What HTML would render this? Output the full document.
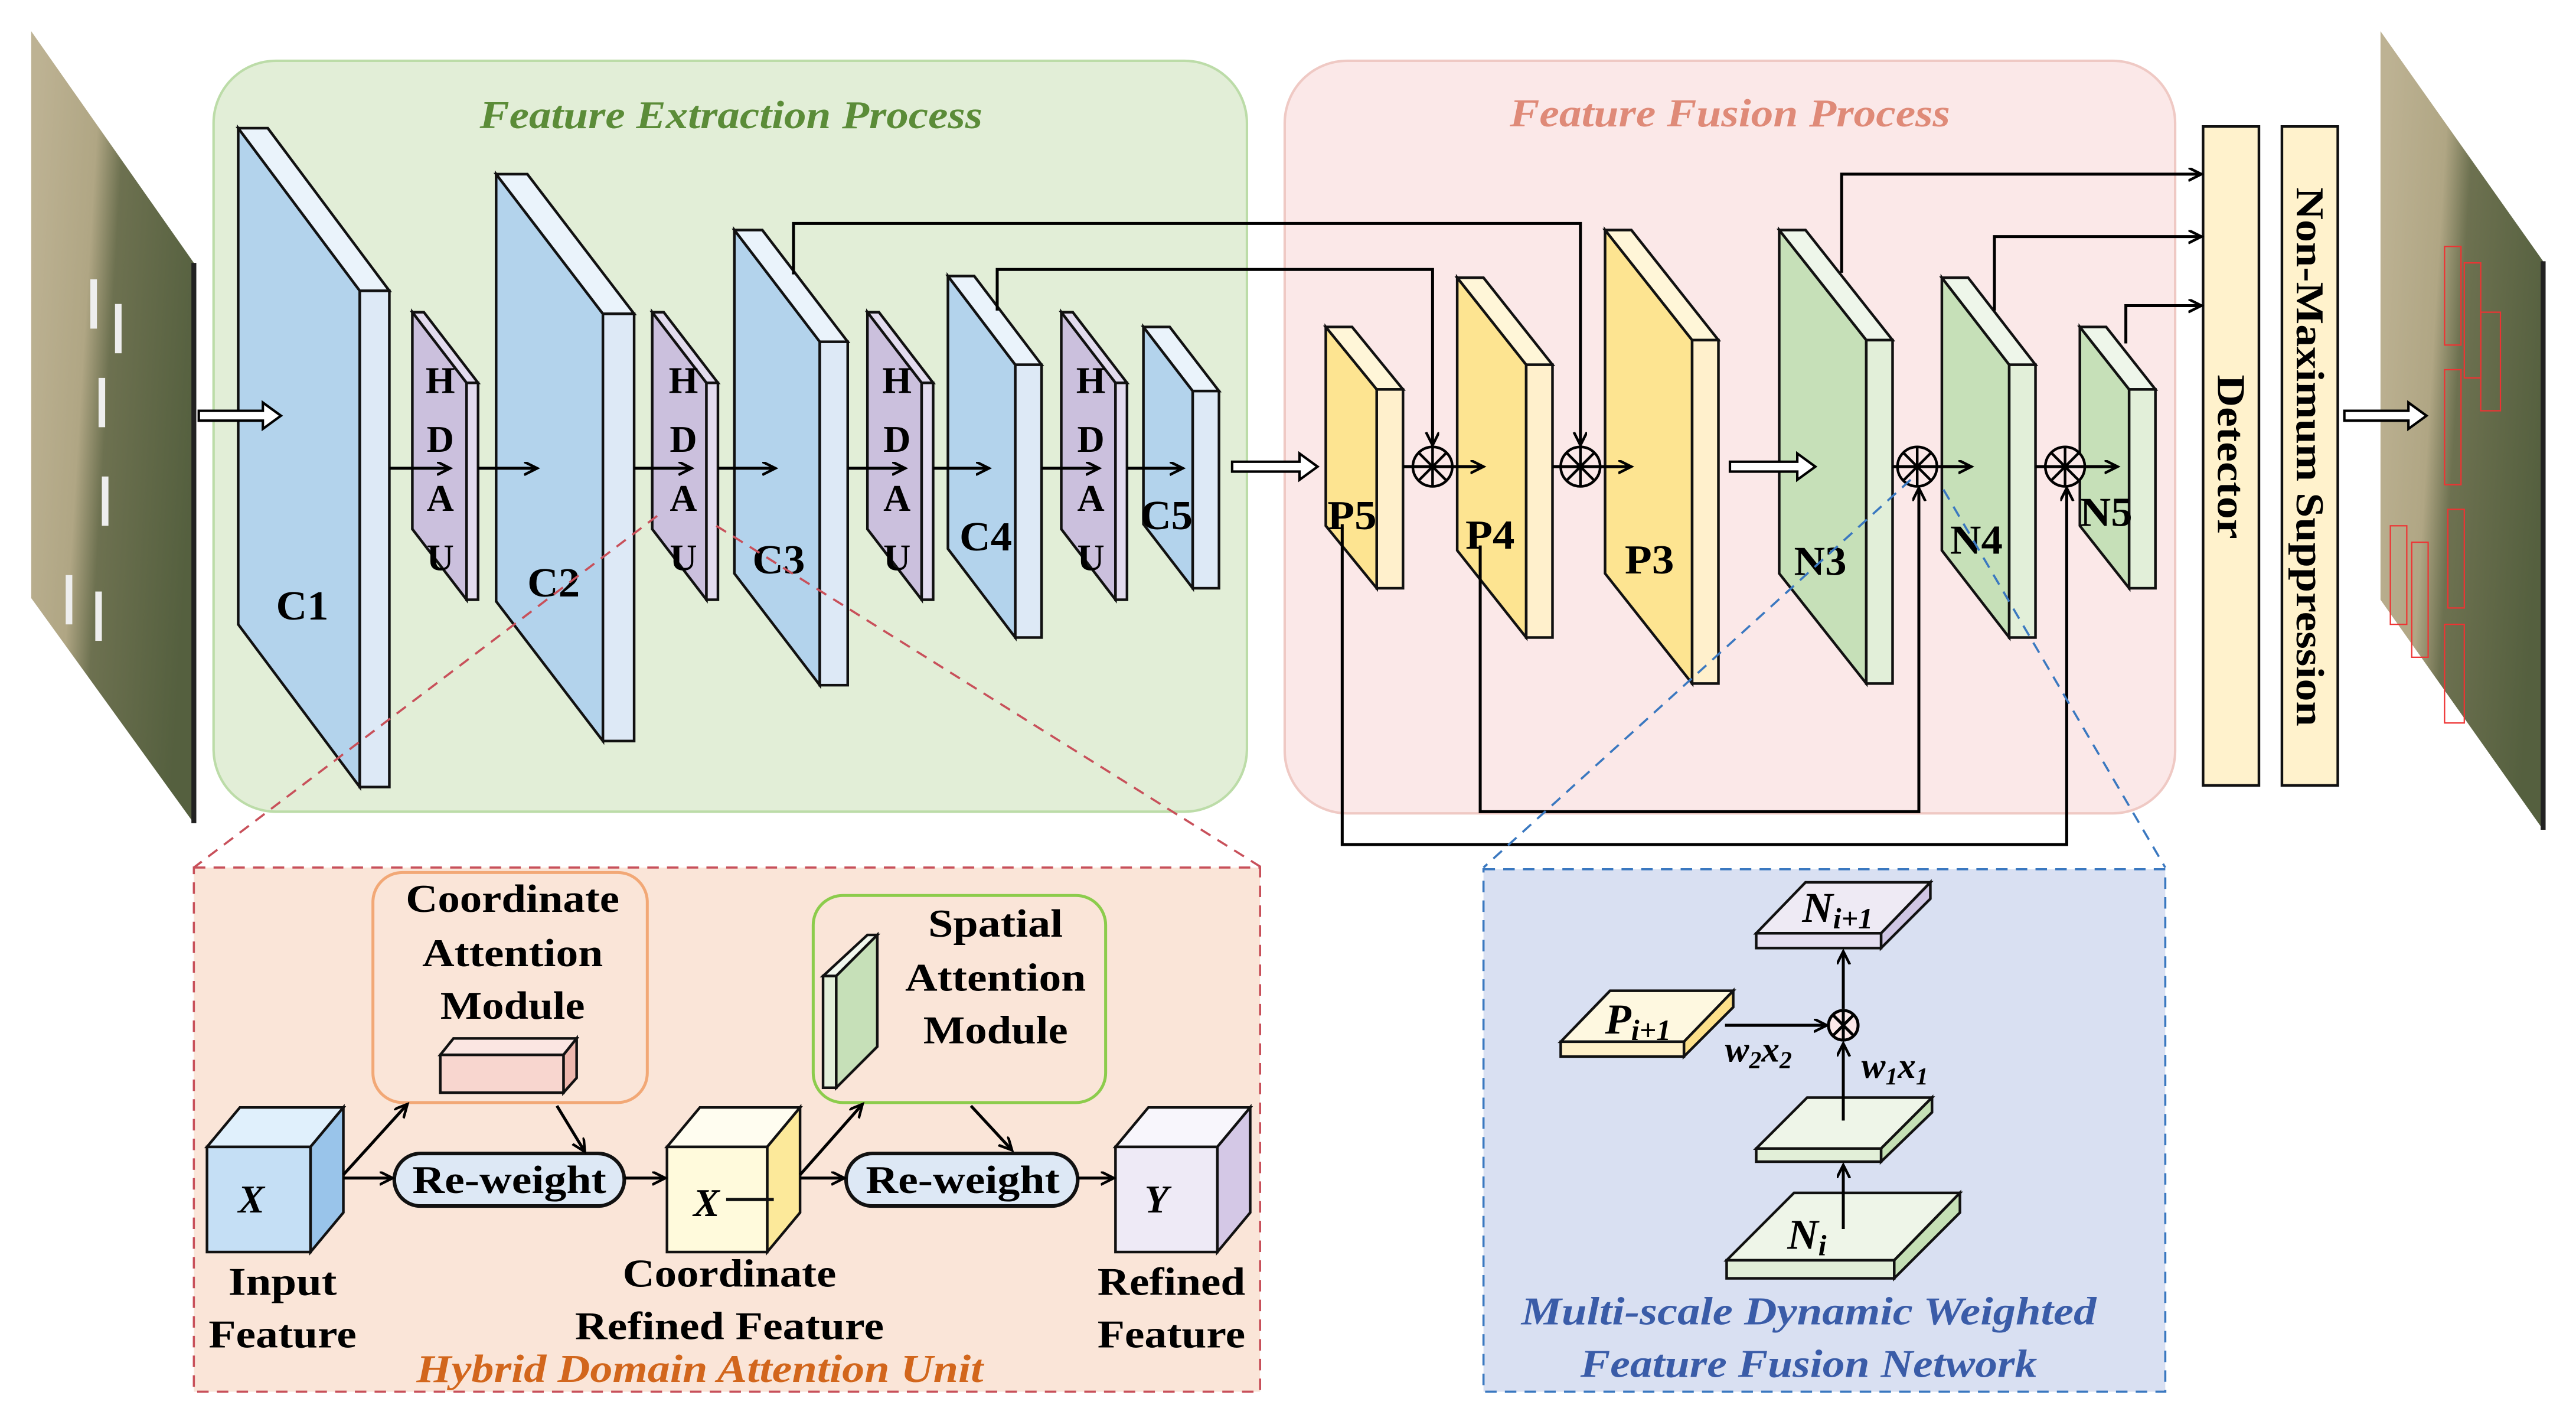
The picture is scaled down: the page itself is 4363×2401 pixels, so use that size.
<!DOCTYPE html>
<html><head><meta charset="utf-8"><style>
html,body{margin:0;padding:0;background:#fff;}
svg{display:block;}
text{font-family:"Liberation Serif",serif;font-weight:bold;}
</style></head><body>
<svg width="4363" height="2401" viewBox="0 0 1568 863" preserveAspectRatio="none" xmlns="http://www.w3.org/2000/svg">
<defs>
<marker id="a" markerWidth="10" markerHeight="10" refX="8" refY="4" orient="auto" markerUnits="userSpaceOnUse">
<path d="M0,0 L8,4 L0,8" fill="none" stroke="#000" stroke-width="1.6"/></marker>
<linearGradient id="img" x1="0" y1="0.2" x2="1" y2="0.5">
<stop offset="0" stop-color="#bdb293"/><stop offset="0.35" stop-color="#b0a684"/><stop offset="0.5" stop-color="#6d7150"/><stop offset="1" stop-color="#55603f"/></linearGradient>
</defs>
<rect width="1568" height="863" fill="#fff"/>

<!-- images -->
<polygon points="19,19 118,160 118,501 19,364" fill="url(#img)"/>
<line x1="118" y1="160" x2="118" y2="501" stroke="#222" stroke-width="3"/>
<polygon points="1449,19 1548,159 1548,505 1449,365" fill="url(#img)"/>
<line x1="1548" y1="159" x2="1548" y2="505" stroke="#222" stroke-width="3"/>
<g stroke="#e33" stroke-width="0.8" fill="none">
<rect x="1488" y="150" width="10" height="60"/><rect x="1500" y="160" width="10" height="70"/><rect x="1510" y="190" width="12" height="60"/>
<rect x="1488" y="225" width="10" height="70"/><rect x="1490" y="310" width="10" height="60"/><rect x="1455" y="320" width="10" height="60"/><rect x="1468" y="330" width="10" height="70"/><rect x="1488" y="380" width="12" height="60"/>
</g>
<g fill="#eee"><rect x="55" y="170" width="4" height="30"/><rect x="70" y="185" width="4" height="30"/><rect x="60" y="230" width="4" height="30"/><rect x="62" y="290" width="4" height="30"/><rect x="40" y="350" width="4" height="30"/><rect x="58" y="360" width="4" height="30"/></g>

<!-- big background boxes -->
<rect x="130" y="37" width="629" height="457" rx="38" fill="#e2eed7" stroke="#bcdca8" stroke-width="1.5"/>
<rect x="782" y="37" width="542" height="458" rx="38" fill="#fbe8e8" stroke="#efc9c4" stroke-width="1.5"/>
<text x="445" y="78" font-size="24" font-style="italic" fill="#5b8c38" text-anchor="middle" textLength="306" lengthAdjust="spacingAndGlyphs">Feature Extraction Process</text>
<text x="1053" y="77" font-size="24" font-style="italic" fill="#df8a78" text-anchor="middle" textLength="268" lengthAdjust="spacingAndGlyphs">Feature Fusion Process</text>

<!-- slabs -->
<g stroke="#111" stroke-width="1.6" stroke-linejoin="miter">
<g fill="#b3d3ec">
<polygon points="145,78 219,177 219,479 145,380"/><polygon points="145,78 163,78 237,177 219,177" fill="#eaf3fb"/><rect x="219" y="177" width="18" height="302" fill="#dde9f6"/>
<polygon points="302,106 367,191 367,451 302,366"/><polygon points="302,106 321,106 386,191 367,191" fill="#eaf3fb"/><rect x="367" y="191" width="19" height="260" fill="#dde9f6"/>
<polygon points="447,140 499,208 499,417 447,349"/><polygon points="447,140 464,140 516,208 499,208" fill="#eaf3fb"/><rect x="499" y="208" width="17" height="209" fill="#dde9f6"/>
<polygon points="577,168 618,222 618,388 577,334"/><polygon points="577,168 593,168 634,222 618,222" fill="#eaf3fb"/><rect x="618" y="222" width="16" height="166" fill="#dde9f6"/>
<polygon points="696,199 726,238 726,358 696,319"/><polygon points="696,199 712,199 742,238 726,238" fill="#eaf3fb"/><rect x="726" y="238" width="16" height="120" fill="#dde9f6"/>
</g>
<g fill="#cbc0dd">
<polygon points="251,190 284,233 284,365 251,322"/><polygon points="251,190 258,190 291,233 284,233" fill="#e3dcef"/><rect x="284" y="233" width="7" height="132" fill="#e3dcef"/>
<polygon points="397,190 430,233 430,365 397,322"/><polygon points="397,190 404,190 437,233 430,233" fill="#e3dcef"/><rect x="430" y="233" width="7" height="132" fill="#e3dcef"/>
<polygon points="528,190 561,233 561,365 528,322"/><polygon points="528,190 535,190 568,233 561,233" fill="#e3dcef"/><rect x="561" y="233" width="7" height="132" fill="#e3dcef"/>
<polygon points="646,190 679,233 679,365 646,322"/><polygon points="646,190 653,190 686,233 679,233" fill="#e3dcef"/><rect x="679" y="233" width="7" height="132" fill="#e3dcef"/>
</g>
<g fill="#fde491">
<polygon points="807,199 838,237 838,358 807,320"/><polygon points="807,199 823,199 854,237 838,237" fill="#fff6d8"/><rect x="838" y="237" width="16" height="121" fill="#fff0cc"/>
<polygon points="887,169 929,222 929,388 887,335"/><polygon points="887,169 903,169 945,222 929,222" fill="#fff6d8"/><rect x="929" y="222" width="16" height="166" fill="#fff0cc"/>
<polygon points="977,140 1030,207 1030,416 977,349"/><polygon points="977,140 993,140 1046,207 1030,207" fill="#fff6d8"/><rect x="1030" y="207" width="16" height="209" fill="#fff0cc"/>
</g>
<g fill="#c6e0b8">
<polygon points="1083,140 1136,207 1136,416 1083,349"/><polygon points="1083,140 1099,140 1152,207 1136,207" fill="#eef6ea"/><rect x="1136" y="207" width="16" height="209" fill="#e2efd9"/>
<polygon points="1182,169 1223,222 1223,388 1182,335"/><polygon points="1182,169 1198,169 1239,222 1223,222" fill="#eef6ea"/><rect x="1223" y="222" width="16" height="166" fill="#e2efd9"/>
<polygon points="1266,199 1296,237 1296,358 1266,320"/><polygon points="1266,199 1282,199 1312,237 1296,237" fill="#eef6ea"/><rect x="1296" y="237" width="16" height="121" fill="#e2efd9"/>
</g>
<rect x="1341" y="77" width="34" height="401" fill="#fff2cc"/>
<rect x="1389" y="77" width="34" height="401" fill="#fff2cc"/>
</g>
<text transform="translate(1350,278) rotate(90)" font-size="24" text-anchor="middle" textLength="100" lengthAdjust="spacingAndGlyphs">Detector</text>
<text transform="translate(1398,278) rotate(90)" font-size="24" text-anchor="middle" textLength="328" lengthAdjust="spacingAndGlyphs">Non-Maximum Suppression</text>

<!-- labels -->
<g font-size="25">
<text x="184" y="377" text-anchor="middle" textLength="32" lengthAdjust="spacingAndGlyphs">C1</text>
<text x="337" y="363" text-anchor="middle" textLength="32" lengthAdjust="spacingAndGlyphs">C2</text>
<text x="474" y="349" text-anchor="middle" textLength="32" lengthAdjust="spacingAndGlyphs">C3</text>
<text x="600" y="335" text-anchor="middle" textLength="32" lengthAdjust="spacingAndGlyphs">C4</text>
<text x="710" y="322" text-anchor="middle" textLength="32" lengthAdjust="spacingAndGlyphs">C5</text>
<text x="823" y="322" text-anchor="middle" textLength="30" lengthAdjust="spacingAndGlyphs">P5</text>
<text x="907" y="334" text-anchor="middle" textLength="30" lengthAdjust="spacingAndGlyphs">P4</text>
<text x="1004" y="349" text-anchor="middle" textLength="30" lengthAdjust="spacingAndGlyphs">P3</text>
<text x="1108" y="350" text-anchor="middle" textLength="32" lengthAdjust="spacingAndGlyphs">N3</text>
<text x="1203" y="337" text-anchor="middle" textLength="32" lengthAdjust="spacingAndGlyphs">N4</text>
<text x="1282" y="320" text-anchor="middle" textLength="32" lengthAdjust="spacingAndGlyphs">N5</text>
</g>
<g font-size="23" text-anchor="middle">
<text x="268" y="239">H</text><text x="268" y="275">D</text><text x="268" y="311">A</text><text x="268" y="347">U</text>
<text x="416" y="239">H</text><text x="416" y="275">D</text><text x="416" y="311">A</text><text x="416" y="347">U</text>
<text x="546" y="239">H</text><text x="546" y="275">D</text><text x="546" y="311">A</text><text x="546" y="347">U</text>
<text x="664" y="239">H</text><text x="664" y="275">D</text><text x="664" y="311">A</text><text x="664" y="347">U</text>
</g>

<!-- arrows extraction -->
<g stroke="#000" stroke-width="1.8" fill="none" marker-end="url(#a)">
<line x1="237" y1="285" x2="274" y2="285"/><line x1="291" y1="285" x2="327" y2="285"/>
<line x1="386" y1="285" x2="421" y2="285"/><line x1="437" y1="285" x2="472" y2="285"/>
<line x1="516" y1="285" x2="551" y2="285"/><line x1="568" y1="285" x2="602" y2="285"/>
<line x1="634" y1="285" x2="669" y2="285"/><line x1="686" y1="285" x2="720" y2="285"/>
<line x1="854" y1="284" x2="903" y2="284"/><line x1="945" y1="284" x2="993" y2="284"/>
<line x1="1152" y1="284" x2="1200" y2="284"/><line x1="1239" y1="284" x2="1289" y2="284"/>
<polyline points="483,167 483,136 962,136 962,271"/>
<polyline points="607,189 607,164 872,164 872,271"/>
<polyline points="817,319 817,514 1258,514 1258,297"/>
<polyline points="901,332 901,494 1168,494 1168,297"/>
<polyline points="1121,166 1121,106 1340,106"/>
<polyline points="1214,189 1214,144 1340,144"/>
<polyline points="1294,209 1294,186 1340,186"/>
</g>
<!-- hollow arrows -->
<g fill="#fff" stroke="#000" stroke-width="1.5">
<path d="M121,250 L160,250 L160,245 L171,253 L160,261 L160,256 L121,256 Z"/>
<path d="M750,281 L791,281 L791,276 L802,284 L791,292 L791,287 L750,287 Z"/>
<path d="M1053,281 L1094,281 L1094,276 L1105,284 L1094,292 L1094,287 L1053,287 Z"/>
<path d="M1427,250 L1466,250 L1466,245 L1477,253 L1466,261 L1466,256 L1427,256 Z"/>
</g>
<!-- otimes -->
<g stroke="#000" stroke-width="1.6" fill="none">
<g transform="translate(872,284)"><circle r="12" fill="#fbe8e8"/><line x1="0" y1="-12" x2="0" y2="12"/><line x1="-8.5" y1="-8.5" x2="8.5" y2="8.5"/><line x1="8.5" y1="-8.5" x2="-8.5" y2="8.5"/></g>
<g transform="translate(962,284)"><circle r="12" fill="#fbe8e8"/><line x1="0" y1="-12" x2="0" y2="12"/><line x1="-8.5" y1="-8.5" x2="8.5" y2="8.5"/><line x1="8.5" y1="-8.5" x2="-8.5" y2="8.5"/></g>
<g transform="translate(1167,284)"><circle r="12" fill="#fbe8e8"/><line x1="0" y1="-12" x2="0" y2="12"/><line x1="-8.5" y1="-8.5" x2="8.5" y2="8.5"/><line x1="8.5" y1="-8.5" x2="-8.5" y2="8.5"/></g>
<g transform="translate(1257,284)"><circle r="12" fill="#fbe8e8"/><line x1="0" y1="-12" x2="0" y2="12"/><line x1="-8.5" y1="-8.5" x2="8.5" y2="8.5"/><line x1="8.5" y1="-8.5" x2="-8.5" y2="8.5"/></g>
</g>
<g stroke="#000" stroke-width="1.8"><line x1="854" y1="284" x2="895" y2="284"/><line x1="945" y1="284" x2="985" y2="284"/><line x1="1152" y1="284" x2="1192" y2="284"/><line x1="1239" y1="284" x2="1280" y2="284"/></g>

<!-- dashed zoom lines -->
<g fill="none" stroke-width="1.3" stroke-dasharray="7,5">
<line x1="400" y1="314" x2="118" y2="528" stroke="#c8505a"/>
<line x1="436" y1="320" x2="768" y2="528" stroke="#c8505a"/>
<line x1="1163" y1="292" x2="903" y2="528" stroke="#3a78c0"/>
<line x1="1183" y1="298" x2="1318" y2="528" stroke="#3a78c0"/>
</g>

<!-- Hybrid domain attention unit -->
<rect x="118" y="528" width="649" height="319" fill="#fae5d8" stroke="#c8505a" stroke-width="1.3" stroke-dasharray="7,5"/>
<rect x="227" y="531" width="167" height="140" rx="18" fill="#fae5d8" stroke="#f2a876" stroke-width="1.8"/>
<rect x="495" y="545" width="178" height="126" rx="18" fill="#fae5d8" stroke="#8ccc4c" stroke-width="1.8"/>
<g font-size="24" text-anchor="middle">
<text x="312" y="555" textLength="130" lengthAdjust="spacingAndGlyphs">Coordinate</text>
<text x="312" y="588" textLength="110" lengthAdjust="spacingAndGlyphs">Attention</text>
<text x="312" y="620" textLength="88" lengthAdjust="spacingAndGlyphs">Module</text>
<text x="606" y="570" textLength="82" lengthAdjust="spacingAndGlyphs">Spatial</text>
<text x="606" y="603" textLength="110" lengthAdjust="spacingAndGlyphs">Attention</text>
<text x="606" y="635" textLength="88" lengthAdjust="spacingAndGlyphs">Module</text>
<text x="172" y="788" textLength="66" lengthAdjust="spacingAndGlyphs">Input</text>
<text x="172" y="820" textLength="90" lengthAdjust="spacingAndGlyphs">Feature</text>
<text x="444" y="783" textLength="130" lengthAdjust="spacingAndGlyphs">Coordinate</text>
<text x="444" y="815" textLength="188" lengthAdjust="spacingAndGlyphs">Refined Feature</text>
<text x="713" y="788" textLength="90" lengthAdjust="spacingAndGlyphs">Refined</text>
<text x="713" y="820" textLength="90" lengthAdjust="spacingAndGlyphs">Feature</text>
</g>
<text x="426" y="841" font-size="24" font-style="italic" fill="#d2661c" text-anchor="middle" textLength="345" lengthAdjust="spacingAndGlyphs">Hybrid Domain Attention Unit</text>
<g stroke="#111" stroke-width="1.6">
<polygon points="268,642 276,632 351,632 343,642" fill="#fbe6e2"/><polygon points="343,642 351,632 351,656 343,665" fill="#eeb8ae"/><rect x="268" y="642" width="75" height="23" fill="#f8d6cf"/>
<polygon points="501,594 528,569 534,569 509,594" fill="#f2f8ee"/><polygon points="509,594 534,569 534,637 509,662" fill="#c6e0b8"/><rect x="501" y="594" width="8" height="68" fill="#e2efd9"/>
<polygon points="126,698 146,674 209,674 189,698" fill="#e0f0fc"/><polygon points="189,698 209,674 209,738 189,762" fill="#99c4ea"/><rect x="126" y="698" width="63" height="64" fill="#c5dff5"/>
<polygon points="406,698 426,674 487,674 467,698" fill="#fffdf0"/><polygon points="467,698 487,674 487,738 467,762" fill="#fce99a"/><rect x="406" y="698" width="61" height="64" fill="#fffadc"/>
<polygon points="679,698 699,674 761,674 741,698" fill="#f8f6fc"/><polygon points="741,698 761,674 761,738 741,762" fill="#d4c8e6"/><rect x="679" y="698" width="62" height="64" fill="#eeeaf6"/>
<rect x="240" y="702" width="140" height="32" rx="16" fill="#dde8f5" stroke-width="2.2"/>
<rect x="515" y="702" width="141" height="32" rx="16" fill="#dde8f5" stroke-width="2.2"/>
<line x1="442" y1="730" x2="471" y2="730" stroke-width="2"/>
</g>
<g font-size="24" text-anchor="middle">
<text x="310" y="726" textLength="118" lengthAdjust="spacingAndGlyphs">Re-weight</text>
<text x="586" y="726" textLength="118" lengthAdjust="spacingAndGlyphs">Re-weight</text>
<text x="153" y="738" font-style="italic">X</text>
<text x="430" y="740" font-style="italic">X</text>
<text x="704" y="738" font-style="italic">Y</text>
</g>
<g stroke="#000" stroke-width="1.8" fill="none" marker-end="url(#a)">
<line x1="209" y1="717" x2="239" y2="717"/><line x1="380" y1="717" x2="405" y2="717"/>
<line x1="487" y1="717" x2="514" y2="717"/><line x1="656" y1="717" x2="678" y2="717"/>
<line x1="209" y1="715" x2="248" y2="672"/><line x1="339" y1="673" x2="356" y2="701"/>
<line x1="487" y1="715" x2="525" y2="672"/><line x1="591" y1="673" x2="616" y2="700"/>
</g>

<!-- Multi-scale box -->
<rect x="903" y="529" width="415" height="318" fill="#d9e0f2" stroke="#3a78c0" stroke-width="1.3" stroke-dasharray="7,5"/>
<g stroke="#111" stroke-width="1.6">
<polygon points="1069,568 1099,537 1175,537 1145,568" fill="#eeeaf4"/><polygon points="1145,568 1175,537 1175,547 1145,577" fill="#d0c6e4"/><rect x="1069" y="568" width="76" height="9" fill="#e4def0"/>
<polygon points="950,634 980,603 1055,603 1025,634" fill="#fef8e0"/><polygon points="1025,634 1055,603 1055,613 1025,643" fill="#fde08a"/><rect x="950" y="634" width="75" height="9" fill="#fff0c8"/>
<polygon points="1069,699 1100,668 1176,668 1145,699" fill="#eef5e8"/><polygon points="1145,699 1176,668 1176,677 1145,707" fill="#c5e0b5"/><rect x="1069" y="699" width="76" height="8" fill="#e2efd8"/>
<polygon points="1051,767 1092,726 1193,726 1153,767" fill="#eef5e8"/><polygon points="1153,767 1193,726 1193,738 1153,778" fill="#c5e0b5"/><rect x="1051" y="767" width="102" height="11" fill="#e2efd8"/>
</g>
<g stroke="#000" stroke-width="1.8" fill="none">
<g marker-end="url(#a)">
<line x1="1122" y1="748" x2="1122" y2="709"/><line x1="1122" y1="682" x2="1122" y2="635"/>
<line x1="1122" y1="614" x2="1122" y2="579"/><line x1="1050" y1="624" x2="1112" y2="624"/>
</g>
<circle cx="1122" cy="624" r="9" fill="#fbe8e8"/><line x1="1122" y1="615" x2="1122" y2="633"/><line x1="1116" y1="618" x2="1128" y2="630"/><line x1="1128" y1="618" x2="1116" y2="630"/>
</g>
<g font-style="italic" font-size="26">
<text x="1097" y="561">N<tspan font-size="18" dy="4">i+1</tspan></text>
<text x="977" y="629">P<tspan font-size="18" dy="4">i+1</tspan></text>
<text x="1088" y="760">N<tspan font-size="18" dy="4">i</tspan></text>
<text x="1050" y="646" font-size="22">w<tspan font-size="15" dy="4">2</tspan><tspan dy="-4">x</tspan><tspan font-size="15" dy="4">2</tspan></text>
<text x="1133" y="656" font-size="22">w<tspan font-size="15" dy="4">1</tspan><tspan dy="-4">x</tspan><tspan font-size="15" dy="4">1</tspan></text>
</g>
<g font-style="italic" font-size="24" fill="#3a5ca8" text-anchor="middle">
<text x="1101" y="806" textLength="350" lengthAdjust="spacingAndGlyphs">Multi-scale Dynamic Weighted</text>
<text x="1101" y="838" textLength="278" lengthAdjust="spacingAndGlyphs">Feature Fusion Network</text>
</g>
</svg>
</body></html>
